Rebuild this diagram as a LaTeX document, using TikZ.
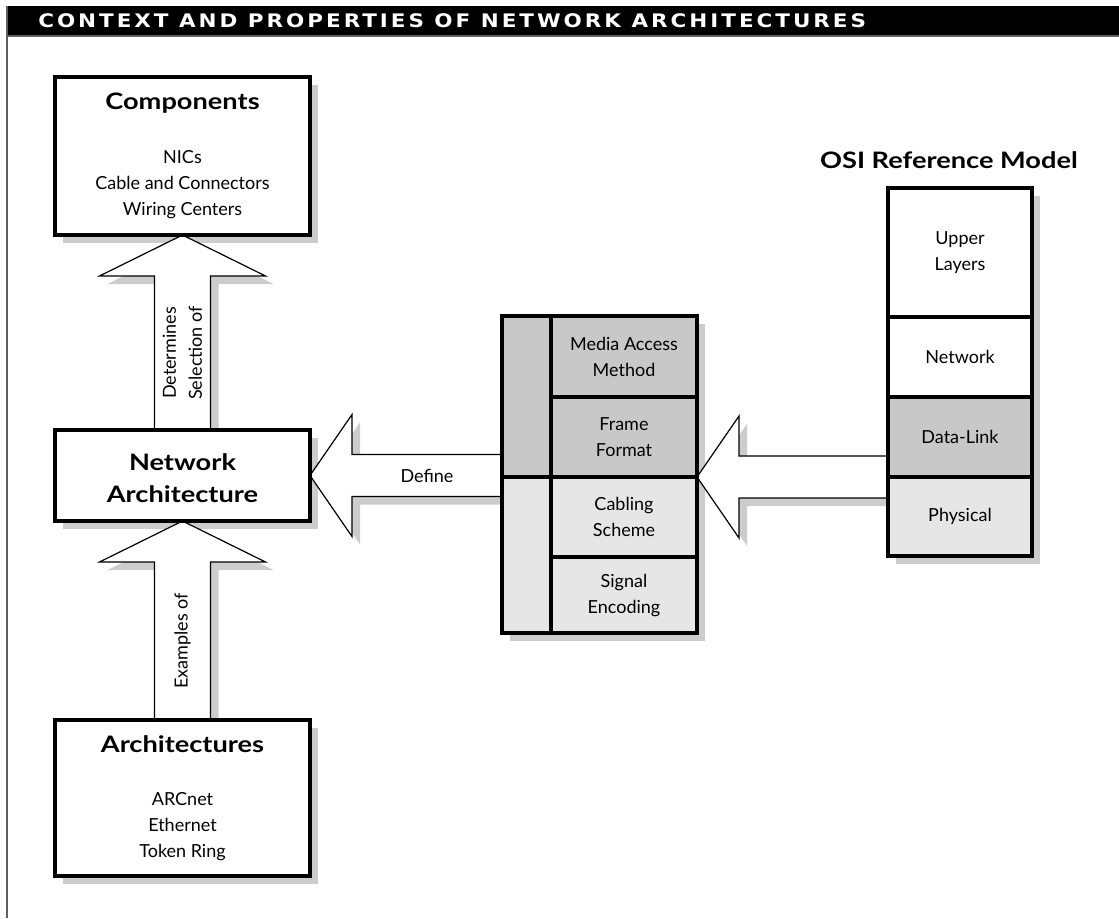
\documentclass[tikz,border=0pt]{standalone}
\usepackage{fontspec}
\setmainfont{Lato}
\newfontfamily\headfont[LetterSpace=16,FakeStretch=1.15]{DejaVu Sans}
\newfontfamily\titlefam[FakeStretch=1.2]{Lato}
\usetikzlibrary{calc,positioning}
\pgfdeclarelayer{bg}
\pgfdeclarelayer{mid}
\pgfsetlayers{bg,mid,main}
\definecolor{shadowgray}{HTML}{CCCCCC}
\definecolor{layerdark}{HTML}{C8C8C8}
\definecolor{layerlight}{HTML}{E6E6E6}
\definecolor{framegray}{HTML}{606060}
\newcommand\bodyfont{\fontsize{13.5}{19.5}\selectfont}
\newcommand\titlefont{\titlefam\bfseries\fontsize{17}{24}\selectfont}
% block arrows: #1 style, #2 tip, #3 tail (centre of the shaft end)
\newcommand\vblock[3]{\path[#1] (#2) -- ++(83,41) -- ++(-55,0) -- ($(#3)+(28,0)$) -- ($(#3)+(-28,0)$) |- ($(#2)+(-28,41)$) -- ++(-55,0) -- cycle;}
\newcommand\hblock[3]{\path[#1] (#2) -- ++(42,-61) -- ++(0,40) -- ($(#3)+(0,-21)$) -- ($(#3)+(0,21)$) -| ($(#2)+(42,21)$) -- ++(0,40) -- cycle;}
\tikzset{
  box/.style={draw,line width=3pt,fill=white,inner sep=0pt,outer sep=0pt,align=center,font=\bodyfont},
  bigbox/.style={box,minimum width=191.25pt},
  cell/.style={box,minimum width=109.5pt,minimum height=60pt},
  sidecell/.style={box,minimum width=36.75pt},
  osicell/.style={box,minimum width=108pt,minimum height=60pt},
  blockarrow/.style={draw,fill=white,line width=0.9pt,line join=miter},
  shadowfill/.style={fill=shadowgray,draw=none},
  arrowtext/.style={font=\bodyfont,align=center,inner sep=0pt},
}
\begin{document}
\begin{tikzpicture}[x=0.75pt,y=-0.75pt]
\useasboundingbox (0,0) rectangle (1119,918);
% ---------- header ----------
\fill[black] (6,6) rectangle (1119,35);
\draw[framegray,line width=1.5pt] (6,36) -- (1119,36);
\draw[framegray,line width=1.5pt] (7,6) -- (7,918);
\node[anchor=west,text=white,inner sep=0pt,font=\headfont\bfseries\fontsize{14}{14}\selectfont] (head) at (38,21) {CONTEXT AND PROPERTIES OF NETWORK ARCHITECTURES};
% ---------- left column ----------
\node[bigbox,minimum height=118.5pt] (comp) at (182.5,156) {{\titlefont Components}\\[21pt]NICs\\Cable and Connectors\\Wiring Centers};
\node[bigbox,minimum height=68.25pt,font=\titlefont] (netarch) at (182.5,475.5) {\strut Network\\Architecture};
\node[bigbox,minimum height=117pt] (archs) at (182.5,798) {{\titlefont Architectures}\\[20pt]ARCnet\\Ethernet\\Token Ring};
% ---------- properties stack ----------
\node[cell,fill=layerdark,minimum height=60.75pt] (mam) at (624,356.5) {Media Access\\Method};
\node[cell,fill=layerdark,below=0pt of mam] (ff) {Frame\\Format};
\node[cell,fill=layerlight,below=0pt of ff] (cs) {Cabling\\Scheme};
\node[cell,fill=layerlight,minimum height=57pt,below=0pt of cs] (se) {Signal\\Encoding};
\node[sidecell,fill=layerdark,minimum height=120.75pt,anchor=north east] (maccol) at (mam.north west) {};
\node[sidecell,fill=layerlight,minimum height=117pt,anchor=north east] (phycol) at (cs.north west) {};
% ---------- OSI model ----------
\node[anchor=east,inner sep=0pt,font=\titlefont] (osititle) at (1078,160) {OSI Reference Model};
\node[osicell,minimum height=96.75pt] (upper) at (960,252.5) {Upper\\Layers};
\node[osicell,below=0pt of upper] (net) {Network};
\node[osicell,fill=layerdark,below=0pt of net] (dlink) {Data-Link};
\node[osicell,fill=layerlight,minimum height=59.25pt,below=0pt of dlink] (phys) {Physical};
\coordinate (deftail) at (maccol.west |- netarch.east);
\coordinate (ositail) at (upper.west |- ff.south east);
% ---------- block arrows ----------
\begin{pgfonlayer}{mid}
\vblock{blockarrow}{comp.south}{netarch.north}
\vblock{blockarrow}{netarch.south}{archs.north}
\hblock{blockarrow}{netarch.east}{deftail}
\hblock{blockarrow}{ff.south east}{ositail}
\end{pgfonlayer}
\node[arrowtext,rotate=90] (detlbl) at ($(comp.south)!.5!(netarch.north)+(0,20.5)$) {Determines\\Selection of};
\node[arrowtext,rotate=90] (exlbl) at ($(netarch.south)!.5!(archs.north)+(0,20.5)$) {Examples of};
\node[arrowtext] (deflbl) at ($(netarch.east)!.5!(deftail)+(21,0)$) {Define};
% ---------- shadows ----------
\begin{pgfonlayer}{bg}
\begin{scope}[transform canvas={shift={(8,8)}}]
\vblock{shadowfill}{comp.south}{netarch.north}
\vblock{shadowfill}{netarch.south}{archs.north}
\hblock{shadowfill}{netarch.east}{deftail}
\hblock{shadowfill}{ff.south east}{ositail}
\fill[shadowfill] (comp.north west) rectangle (comp.south east);
\fill[shadowfill] (netarch.north west) rectangle (netarch.south east);
\fill[shadowfill] (archs.north west) rectangle (archs.south east);
\fill[shadowfill] (maccol.north west) rectangle (se.south east);
\fill[shadowfill] (upper.north west) rectangle (phys.south east);
\end{scope}
\end{pgfonlayer}
\end{tikzpicture}
\end{document}
